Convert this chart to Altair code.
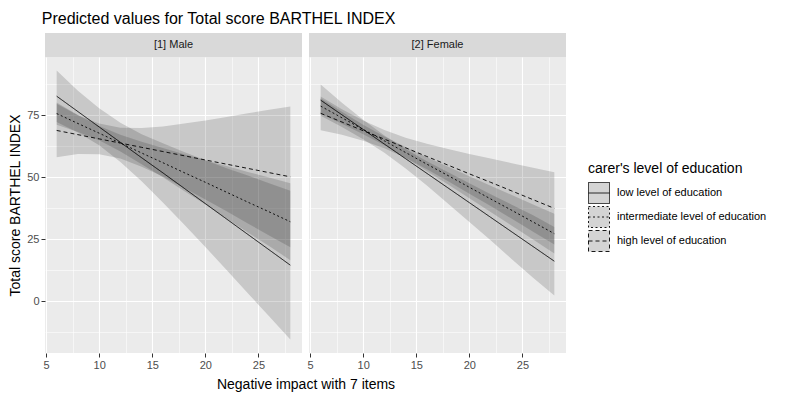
import altair as alt
import pandas as pd

# ---------------- data ----------------
x_vals = [6, 8, 10, 12, 14, 16, 18, 20, 22, 24, 26, 28]
edu_levels = ["low level of education", "intermediate level of education", "high level of education"]
panels = ["[1] Male", "[2] Female"]

# Male
male_low_fit = [82.6, 76.4, 70.2, 64.0, 57.8, 51.7, 45.5, 39.3, 33.1, 26.9, 20.7, 14.5]
male_low_lo  = [72.2, 68.0, 62.8, 56.1, 48.3, 39.8, 30.9, 21.8, 12.6, 3.2, -6.1, -15.5]
male_low_hi  = [93.0, 84.8, 77.7, 71.9, 67.3, 63.6, 60.1, 56.8, 53.6, 50.6, 47.5, 44.5]

male_mid_fit = [75.6, 71.6, 67.7, 63.7, 59.7, 55.8, 51.8, 47.9, 43.9, 39.9, 36.0, 32.0]
male_mid_lo  = [71.1, 68.2, 64.8, 60.3, 55.2, 49.9, 44.4, 39.0, 33.3, 27.7, 22.2, 16.5]
male_mid_hi  = [80.1, 75.0, 70.6, 67.1, 64.2, 61.7, 59.2, 56.8, 54.5, 52.1, 49.8, 47.5]

male_high_fit = [68.8, 67.1, 65.4, 63.7, 62.0, 60.3, 58.6, 56.9, 55.2, 53.5, 51.8, 50.1]
male_high_lo  = [58.0, 59.3, 59.2, 57.5, 54.2, 50.2, 45.6, 41.0, 36.2, 31.3, 26.5, 21.7]
male_high_hi  = [79.6, 74.9, 71.6, 69.9, 69.8, 70.4, 71.6, 72.8, 74.2, 75.7, 77.1, 78.5]

# Female
female_low_fit = [81.0, 75.1, 69.2, 63.3, 57.4, 51.5, 45.6, 39.7, 33.8, 27.9, 22.0, 16.1]
female_low_lo  = [74.7, 70.2, 65.3, 59.8, 53.5, 46.6, 39.3, 31.9, 24.5, 16.9, 9.4, 2.3]
female_low_hi  = [87.3, 80.0, 73.1, 66.8, 61.3, 56.4, 51.9, 47.5, 43.1, 38.9, 34.6, 29.9]

female_mid_fit = [78.6, 73.9, 69.2, 64.6, 59.9, 55.2, 50.6, 45.9, 41.2, 36.6, 31.9, 27.2]
female_mid_lo  = [75.4, 71.5, 67.3, 62.8, 57.7, 52.4, 47.0, 41.5, 35.9, 30.4, 24.8, 19.2]
female_mid_hi  = [81.8, 76.3, 71.1, 66.4, 62.1, 58.0, 54.2, 50.3, 46.5, 42.8, 39.0, 35.2]

female_high_fit = [75.7, 72.2, 68.7, 65.3, 61.8, 58.3, 54.8, 51.3, 47.9, 44.4, 40.9, 37.4]
female_high_lo  = [68.9, 67.1, 64.6, 61.6, 57.7, 53.2, 48.3, 43.3, 38.3, 33.2, 28.0, 22.8]
female_high_hi  = [82.5, 77.3, 72.8, 69.0, 65.9, 63.4, 61.3, 59.3, 57.5, 55.6, 53.8, 52.0]

x_ticks = [5, 7.5, 10, 12.5, 15, 17.5, 20, 22.5, 25, 27.5]
y_ticks = [-12.5, 0, 12.5, 25, 37.5, 50, 62.5, 75, 87.5]

series = {
    ("[1] Male", edu_levels[0]): (male_low_fit, male_low_lo, male_low_hi),
    ("[1] Male", edu_levels[1]): (male_mid_fit, male_mid_lo, male_mid_hi),
    ("[1] Male", edu_levels[2]): (male_high_fit, male_high_lo, male_high_hi),
    ("[2] Female", edu_levels[0]): (female_low_fit, female_low_lo, female_low_hi),
    ("[2] Female", edu_levels[1]): (female_mid_fit, female_mid_lo, female_mid_hi),
    ("[2] Female", edu_levels[2]): (female_high_fit, female_high_lo, female_high_hi),
}

rows = []
for (sex, edu), (fit, lo, hi) in series.items():
    for xv, f, l, h in zip(x_vals, fit, lo, hi):
        rows.append({"sex": sex, "edu": edu, "x": xv, "fit": f, "lo": l, "hi": h})
df = pd.DataFrame(rows)

FONT = "Liberation Sans"
PW, PH = 257, 296
xdom = [4.9, 29.1]
ydom = [-20.9, 98.4]

x_grid_w = {"condition": {"test": "datum.value % 5 !== 0", "value": 0.55}, "value": 1.1}
y_grid_w = {"condition": {"test": "datum.value % 25 !== 0", "value": 0.55}, "value": 1.1}
x_tick_op = {"condition": {"test": "datum.value % 5 !== 0", "value": 0}, "value": 1}
y_tick_op = {"condition": {"test": "datum.value % 25 !== 0", "value": 0}, "value": 1}


def panel(sex, first):
    d = df[df["sex"] == sex]
    xaxis = alt.Axis(
        values=x_ticks, labelExpr="datum.value % 5 === 0 ? datum.label : ''",
        grid=True, gridColor="white", gridWidth=x_grid_w, domain=False,
        tickColor="#333333", tickSize=4, tickOpacity=x_tick_op, tickWidth=1,
        labelColor="#4D4D4D", labelFontSize=11, labelFont=FONT, labelPadding=2,
        title="Negative impact with 7 items" if first else None,
        titleFont=FONT, titleFontSize=14, titleFontWeight="normal", titleColor="black",
        titleX=260.5, titleY=31, titleBaseline="middle",
    )
    if first:
        yaxis = alt.Axis(
            values=y_ticks, labelExpr="datum.value % 25 === 0 ? datum.label : ''",
            grid=True, gridColor="white", gridWidth=y_grid_w, domain=False,
            tickColor="#333333", tickSize=4, tickOpacity=y_tick_op, tickWidth=1,
            labelColor="#4D4D4D", labelFontSize=11, labelFont=FONT, labelPadding=2,
            title="Total score BARTHEL INDEX", titleFont=FONT, titleFontSize=14,
            titleFontWeight="normal", titleColor="black", titlePadding=4,
        )
    else:
        yaxis = alt.Axis(
            values=y_ticks, labels=False, ticks=False, domain=False, title=None,
            grid=True, gridColor="white", gridWidth=y_grid_w,
        )
    x = alt.X("x:Q", scale=alt.Scale(domain=xdom, nice=False, zero=False), axis=xaxis)
    y = alt.Y("lo:Q", scale=alt.Scale(domain=ydom, nice=False, zero=False), axis=yaxis)
    band = alt.Chart(d).mark_area(color="black", opacity=0.15).encode(
        x=x, y=y, y2="hi:Q", detail="edu:N"
    )
    line = alt.Chart(d).mark_line(color="black", strokeWidth=0.9).encode(
        x=alt.X("x:Q", scale=alt.Scale(domain=xdom, nice=False, zero=False), axis=xaxis),
        y=alt.Y("fit:Q", scale=alt.Scale(domain=ydom, nice=False, zero=False), axis=yaxis),
        strokeDash=alt.StrokeDash(
            "edu:N",
            scale=alt.Scale(domain=edu_levels, range=[[1, 0], [2, 2.5], [4, 3]]),
            legend=alt.Legend(
                title="carer's level of education", orient="none", legendX=543, legendY=129,
                titleFont=FONT, titleFontSize=14, titleFontWeight="normal", titleColor="black",
                labelFont=FONT, labelFontSize=11, labelColor="black", labelOffset=7,
                symbolType="M-1,-1H1V1H-1Z M-1,0H1", symbolSize=441,
                symbolFillColor="#D4D4D4", symbolStrokeColor="black", symbolStrokeWidth=0.9,
                rowPadding=-5, titlePadding=6, labelLimit=300,
            ),
        ),
    )
    return alt.layer(band, line).properties(
        width=PW, height=PH, view=alt.ViewBackground(fill="#EBEBEB", stroke=None)
    )


def strip(sex):
    return alt.Chart(pd.DataFrame({"label": [sex]})).mark_text(
        font=FONT, fontSize=11, color="#1A1A1A"
    ).encode(text="label:N").properties(
        width=PW, height=24, view=alt.ViewBackground(fill="#D9D9D9", stroke=None)
    )


strips = alt.hconcat(strip(panels[0]), strip(panels[1]), spacing=7, bounds="flush")
bodies = alt.hconcat(panel(panels[0], True), panel(panels[1], False), spacing=7, bounds="flush")

chart = alt.vconcat(strips, bodies, spacing=0).properties(
    title=alt.TitleParams(
        "Predicted values for Total score BARTHEL INDEX", anchor="start", font=FONT,
        fontSize=16, fontWeight="normal", color="black", offset=6, dx=33,
    ),
    background="white",
    padding={"left": 0, "top": 3, "right": 5, "bottom": 5},
).configure_view(stroke=None)

chart.save("out.html", embed_options={"renderer": "svg", "actions": False})
